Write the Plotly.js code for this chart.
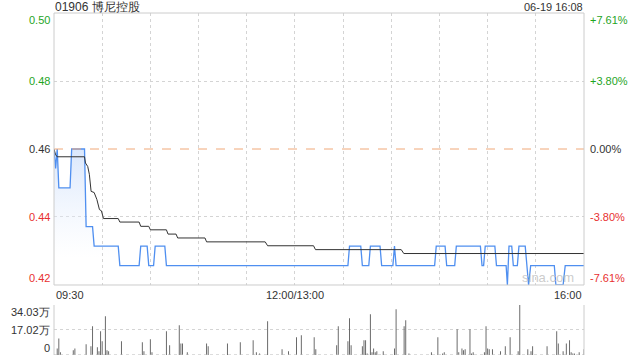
<!DOCTYPE html>
<html><head><meta charset="utf-8">
<script src="https://cdn.plot.ly/plotly-3.0.1.min.js"></script>
<style>html,body{margin:0;padding:0;background:#fff}#chart{width:640px;height:360px}</style>
</head><body><div id="chart"></div>
<script>
const stockTitle = '01906 博尼控股';
const stampText = '06-19 16:08';
const prevClose = 0.46;
const priceLabels = ['0.50', '0.48', '0.46', '0.44', '0.42'];
const pctLabels = ['+7.61%', '+3.80%', '0.00%', '-3.80%', '-7.61%'];
const priceLevels = [0.495, 0.4775, 0.46, 0.4425, 0.425];
const timeLabels = ['09:30', '12:00/13:00', '16:00'];
const timeLabelMin = [0, 150, 330];
const gridMin = [30, 60, 90, 120, 150, 180, 210, 240, 270, 300];
const volLabels = ['34.03万', '17.02万', '0'];
const volLevels = [340300, 170150, 0];

// price line vertices (minutes from 09:30, trading time)
const priceMin = [0, 1, 2, 3, 10, 11, 19, 20, 24, 25, 40, 41, 53, 54, 58, 59, 62, 63, 69, 70,
  183, 184, 191, 192, 196, 197, 203, 204, 211, 212, 213, 237, 238, 243.5, 244.5, 249.5, 250.5,
  265.5, 266.5, 267.5, 268.5, 274.5, 275.5, 281.5, 282.3, 283.3, 285, 286, 288.5, 289.5, 293.4,
  294.5, 295.5, 296.8, 311.5, 312.5, 317, 318.3, 330];
const priceVal = [0.46, 0.455, 0.46, 0.45, 0.45, 0.46, 0.46, 0.44, 0.44, 0.435, 0.435, 0.43, 0.43, 0.435, 0.435, 0.43, 0.43, 0.435, 0.435, 0.43,
  0.43, 0.435, 0.435, 0.43, 0.43, 0.435, 0.435, 0.43, 0.43, 0.435, 0.43, 0.43, 0.435, 0.435, 0.43, 0.43, 0.435,
  0.435, 0.43, 0.43, 0.435, 0.435, 0.43, 0.43, 0.425, 0.435, 0.435, 0.43, 0.43, 0.435, 0.435,
  0.43, 0.425, 0.43, 0.43, 0.425, 0.425, 0.43, 0.43];

// average price line vertices
const avgMin = [0, 1, 2, 19, 19.6, 21, 22, 23.1, 25, 26.7, 28.3, 29.5, 30.8, 40, 41, 53, 54, 59, 60, 70, 71, 76, 77, 94, 95, 131.5, 133, 161.6, 162.8, 216.2, 217.8, 330];
const avgVal = [0.46, 0.4585, 0.458, 0.458, 0.4564, 0.4555, 0.4535, 0.4491, 0.4488, 0.447, 0.4444, 0.4441, 0.4421, 0.4421, 0.4412, 0.4412, 0.4401, 0.4401, 0.4392, 0.4392, 0.4381, 0.4381, 0.4371, 0.4371, 0.4361, 0.4361, 0.4351, 0.4351, 0.4341, 0.4341, 0.4331, 0.4331];

// volume bars
const volMin = [2, 3, 4, 12, 13, 20, 23, 24, 27, 28, 29, 30, 32, 33, 34, 42, 55, 56, 60, 61, 70, 72, 78, 79, 80, 83, 95, 96, 108, 116, 124, 126, 128, 133, 142, 146, 151, 154, 162, 163,
  176, 177, 183, 184, 185, 192, 193, 194, 195, 197, 198, 199, 200, 201, 205, 212, 213, 218, 219, 221, 235, 239, 242, 243, 251, 252, 254, 255, 256, 259, 260, 261,
  268, 269, 270, 271, 273, 278, 281, 284, 289, 290, 295, 297, 298, 307, 313, 314, 317, 319, 321, 322, 323, 324, 327, 330];
const volVal = [45000, 113000, 18000, 32000, 45000, 73000, 59000, 195000, 52000, 25000, 161000, 93000, 263000, 32000, 25000, 93000, 86000, 25000, 107000, 18000, 161000, 66000, 202000, 79000, 79000, 18000, 79000, 59000, 79000, 86000, 100000, 18000, 11000, 229000, 39000, 25000, 120000, 134000, 120000, 39000,
  66000, 195000, 93000, 250000, 66000, 59000, 100000, 100000, 11000, 277000, 18000, 45000, 18000, 25000, 25000, 45000, 311000, 195000, 236000, 11000, 18000, 120000, 11000, 18000, 175000, 18000, 45000, 32000, 39000, 175000, 11000, 18000,
  18000, 195000, 45000, 39000, 39000, 25000, 59000, 120000, 25000, 340300, 39000, 25000, 59000, 59000, 161000, 79000, 25000, 79000, 100000, 18000, 11000, 11000, 18000, 39000];

const GREEN = '#1fa51f', RED = '#e83030', DARK = '#333333';
const FONT = 'Liberation Sans, Arial, sans-serif';
const GRID = '#d4d4d4';
const labelColors = [GREEN, GREEN, DARK, RED, RED];
const edgeShift = [-7, 0, 0, 0, 7];

const annotations = [];
priceLevels.forEach((lv, i) => {
  annotations.push({xref: 'paper', yref: 'y', x: 0, y: lv, xanchor: 'right', yanchor: 'middle', xshift: -2, yshift: edgeShift[i],
    text: priceLabels[i], showarrow: false, font: {family: FONT, size: 11, color: labelColors[i]}});
  annotations.push({xref: 'paper', yref: 'y', x: 1, y: lv, xanchor: 'left', yanchor: 'middle', xshift: 4, yshift: edgeShift[i],
    text: pctLabels[i], showarrow: false, font: {family: FONT, size: 11, color: labelColors[i]}});
});
const volShift = [-7, 0, 7];
volLevels.forEach((lv, i) => {
  annotations.push({xref: 'paper', yref: 'y2', x: 0, y: lv, xanchor: 'right', yanchor: 'middle', xshift: -2, yshift: volShift[i],
    text: volLabels[i], showarrow: false, font: {family: FONT, size: 11, color: DARK}});
});
const tAnchor = ['left', 'center', 'right'];
timeLabels.forEach((t, i) => {
  annotations.push({xref: 'x', yref: 'paper', x: timeLabelMin[i], y: 0.2047, xanchor: tAnchor[i], yanchor: 'top', yshift: -2,
    text: t, showarrow: false, font: {family: FONT, size: 11, color: DARK}});
});
annotations.push({xref: 'paper', yref: 'paper', x: 0, y: 1, xanchor: 'left', yanchor: 'middle', yshift: 6, borderpad: 0,
  text: stockTitle, showarrow: false, font: {family: FONT, size: 12, color: DARK}});
annotations.push({xref: 'paper', yref: 'paper', x: 1, y: 1, xanchor: 'right', yanchor: 'middle', yshift: 6, borderpad: 0,
  text: stampText, showarrow: false, font: {family: FONT, size: 11, color: DARK}});
annotations.push({xref: 'paper', yref: 'y', x: 0.985, y: 0.425, xanchor: 'right', yanchor: 'bottom', yshift: -2,
  text: 'sina.com', showarrow: false, font: {family: FONT, size: 13, color: 'rgba(190,190,190,0.8)'}});

const traces = [
  {x: priceMin, y: priceVal, type: 'scatter', mode: 'lines', xaxis: 'x', yaxis: 'y',
   line: {color: '#4f8ff0', width: 1.3}, fill: 'tozeroy',
   fillgradient: {type: 'vertical', start: 0.432, stop: 0.46, colorscale: [[0, 'rgba(235,242,253,0)'], [1, 'rgba(218,231,252,1)']]},
   hoverinfo: 'skip'},
  {x: avgMin, y: avgVal, type: 'scatter', mode: 'lines', xaxis: 'x', yaxis: 'y',
   line: {color: '#333333', width: 1}, hoverinfo: 'skip'},
  {x: volMin, y: volVal, type: 'bar', xaxis: 'x2', yaxis: 'y2', width: 0.6,
   marker: {color: '#666666', line: {width: 0}}, hoverinfo: 'skip'}
];

const layout = {
  width: 640, height: 360,
  margin: {l: 54, r: 56, t: 13, b: 5},
  paper_bgcolor: '#ffffff', plot_bgcolor: '#ffffff',
  showlegend: false,
  font: {family: FONT, size: 11, color: DARK},
  xaxis: {domain: [0, 1], range: [0, 330], anchor: 'y', tickvals: gridMin, showticklabels: false, ticks: '',
          showgrid: true, gridcolor: GRID, griddash: 'dot', gridwidth: 1, zeroline: false, showline: false},
  yaxis: {domain: [0.2047, 1], range: [0.425, 0.495], anchor: 'x', tickvals: [0.4425, 0.4775], showticklabels: false, ticks: '',
          showgrid: true, gridcolor: GRID, griddash: 'dot', gridwidth: 1, zeroline: false, showline: false},
  xaxis2: {domain: [0, 1], range: [0, 330], anchor: 'y2', showticklabels: false, ticks: '', showgrid: false, zeroline: false, showline: false},
  yaxis2: {domain: [0, 0.1462], range: [0, 340300], anchor: 'x2', tickvals: [170150, 340300], showticklabels: false, ticks: '',
           showgrid: true, gridcolor: GRID, griddash: 'dot', gridwidth: 1, zeroline: false, showline: false},
  shapes: [
    {type: 'line', xref: 'x domain', yref: 'y', x0: 0, x1: 1, y0: prevClose, y1: prevClose,
     line: {color: '#f0a878', width: 1, dash: 'dash'}},
    {type: 'rect', xref: 'x domain', yref: 'y domain', x0: 0, x1: 1, y0: 0, y1: 1,
     line: {color: '#cccccc', width: 1}},
    {type: 'line', xref: 'x2 domain', yref: 'y2 domain', x0: 0, x1: 0, y0: 0, y1: 1, line: {color: '#cccccc', width: 1}},
    {type: 'line', xref: 'x2 domain', yref: 'y2 domain', x0: 1, x1: 1, y0: 0, y1: 1, line: {color: '#cccccc', width: 1}},
    {type: 'line', xref: 'x2 domain', yref: 'y2', x0: 0, x1: 1, y0: 0, y1: 0, line: {color: '#bbbbbb', width: 1, dash: 'dot'}}
  ],
  annotations: annotations
};

Plotly.newPlot('chart', traces, layout, {displayModeBar: false, staticPlot: true});
</script>
</body></html>
